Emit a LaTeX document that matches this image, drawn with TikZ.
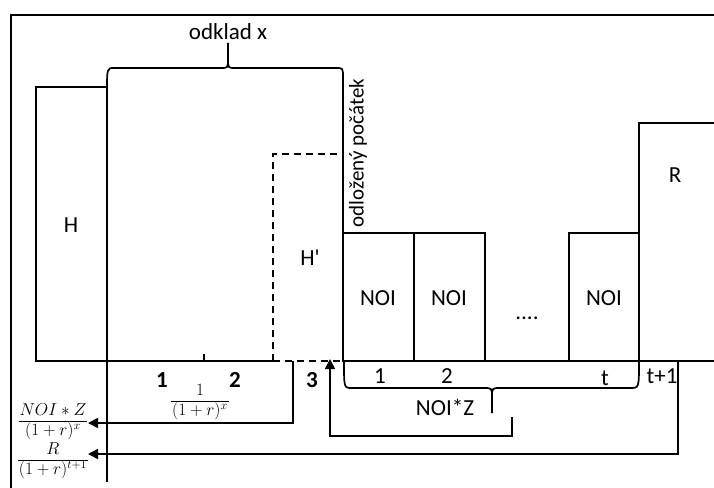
\documentclass[tikz,border=0pt]{standalone}
\usepackage{fontspec}
\setmainfont{Carlito}
\usetikzlibrary{arrows.meta}
\newcommand\stfrac[2]{{\setlength\arrayrulewidth{0.9pt}\renewcommand\arraystretch{0.85}\setlength\tabcolsep{1pt}%
  \begin{tabular}{c}$#1$\\[1pt]\hline\rule{0pt}{14pt}$#2$\end{tabular}}}
\begin{document}
\begin{tikzpicture}[x=1pt,y=-1pt, line width=1.7pt, line join=miter,
  lbl/.style={font=\fontsize{23}{26}\selectfont, inner sep=0pt},
  boldlbl/.style={font=\fontsize{23}{26}\selectfont\bfseries, inner sep=0pt},
  fracl/.style={font=\fontsize{16.5}{18}\selectfont, inner sep=0pt},
  arr/.style={-{Triangle[length=10pt,width=10pt]}},
  dashline/.style={dash pattern=on 7pt off 5pt}]
\clip (0,0) rectangle (714,487);
% frame
\draw (11,500) -- (11,15) -- (730,15);
% H box
\draw (36,361) rectangle (107,87);
\node[lbl] (H) at (71,225) {H};
\draw (107,87) -- (107,482);
% baseline
\draw (36,361) -- (273,361);
\draw[dashline] (273,361) -- (343,361);
\draw (343,361) -- (730,361);
\draw (204,354) -- (204,361);
% H' dashed box
\draw[dashline] (273,361) -- (273,154) -- (340,154);
\node[lbl] (Hp) at (310,258) {H\textquotesingle};
% top brace
\draw (107,92) .. controls (107,68) .. (114,68) -- (221,68) .. controls (228,68) .. (228,58) -- (228,43);
\draw (228,58) .. controls (228,68) .. (235,68) -- (336,68) .. controls (343,68) .. (343,78) -- (343,233);
\node[lbl] (odklad) at (228,32) {odklad x};
\node[lbl, font=\fontsize{21}{24}\selectfont, rotate=90] (odl) at (358,153) {odložený počátek};
% NOI boxes
\draw (343,361) rectangle (414,233);
\draw (414,361) rectangle (485,233);
\draw (569,361) rectangle (639,233);
\node[lbl] (n1) at (378,298) {NOI};
\node[lbl] (n2) at (449,298) {NOI};
\node[lbl] (dots) at (527,318) {....};
\node[lbl] (nt) at (604,298) {NOI};
% R box
\draw (639,361) -- (639,123) -- (730,123);
\node[lbl] (R) at (675,175) {R};
% period labels
\node[boldlbl] (p1) at (162,380) {1};
\node[boldlbl] (p2) at (235,380) {2};
\node[boldlbl] (p3) at (312,380) {3};
\node[lbl] (q1) at (380,376) {1};
\node[lbl] (q2) at (447,376) {2};
\node[lbl] (qt) at (605,378) {t};
\node[lbl] (qt1) at (662,376) {t+1};
\node[fracl] (f1) at (200,402) {\stfrac{1}{(1+r)^{x}}};
% bottom brace
\draw (344,362) .. controls (344,388) .. (352,388) -- (484,388) .. controls (492,388) .. (492,398) -- (492,413);
\draw (492,398) .. controls (492,388) .. (500,388) -- (630,388) .. controls (639,388) .. (639,362);
\node[lbl] (noiz) at (445,407) {NOI*Z};
% arrows
\coordinate (a1) at (293,361);
\coordinate (a1t) at (88,423);
\draw[arr] (a1) -- (293,423) -- (a1t);
\coordinate (a2) at (512,417);
\coordinate (a2t) at (330,359);
\draw[arr] (a2) -- (512,436) -- (330,436) -- (a2t);
\coordinate (a3) at (678,361);
\coordinate (a3t) at (88,454);
\draw[arr] (a3) -- (678,454) -- (a3t);
% formulas
\node[fracl] (F1) at (53,422) {\stfrac{NOI*Z}{(1+r)^{x}}};
\node[fracl] (F2) at (53,461) {\stfrac{R}{(1+r)^{t+1}}};
\end{tikzpicture}
\end{document}
